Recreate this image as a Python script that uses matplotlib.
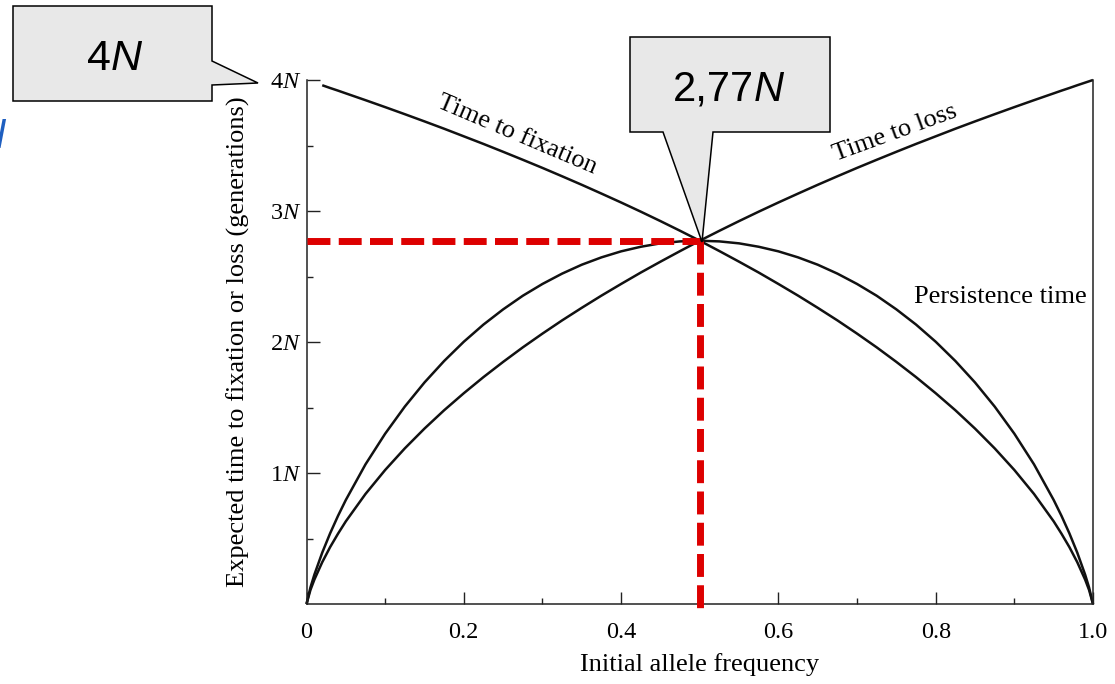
import numpy as np
import matplotlib
matplotlib.use("Agg")
import matplotlib.pyplot as plt
from matplotlib.patches import Polygon

plt.rcParams['font.family'] = ['Liberation Serif', 'DejaVu Serif']
plt.rcParams['mathtext.fontset'] = 'custom'
plt.rcParams['mathtext.rm'] = 'Liberation Serif'
plt.rcParams['mathtext.it'] = 'Liberation Serif:italic'

# initial allele frequency and expected times (units of N)
freq = [0, 0.005, 0.01, 0.02, 0.03, 0.04, 0.05, 0.075, 0.1, 0.125, 0.15, 0.175, 0.2, 0.225, 0.25,
        0.275, 0.3, 0.325, 0.35, 0.375, 0.4, 0.425, 0.45, 0.475, 0.5, 0.525, 0.55, 0.575, 0.6,
        0.625, 0.65, 0.675, 0.7, 0.725, 0.75, 0.775, 0.8, 0.825, 0.85, 0.875, 0.9, 0.925, 0.95,
        0.96, 0.97, 0.98, 0.99, 0.995, 1.0]
t_fix = [np.nan, np.nan, np.nan, 3.960, 3.939, 3.919, 3.898, 3.846, 3.793, 3.739, 3.684, 3.628,
         3.570, 3.512, 3.452, 3.391, 3.329, 3.265, 3.200, 3.133, 3.065, 2.995, 2.923, 2.849, 2.773,
         2.694, 2.613, 2.530, 2.443, 2.354, 2.261, 2.165, 2.064, 1.959, 1.848, 1.732, 1.609, 1.479,
         1.339, 1.188, 1.023, 0.840, 0.631, 0.536, 0.434, 0.319, 0.186, 0.107, 0]
t_loss = [0, 0.107, 0.186, 0.319, 0.434, 0.536, 0.631, 0.840, 1.023, 1.188, 1.339, 1.479, 1.609,
          1.732, 1.848, 1.959, 2.064, 2.165, 2.261, 2.354, 2.443, 2.530, 2.613, 2.694, 2.773, 2.849,
          2.923, 2.995, 3.065, 3.133, 3.200, 3.265, 3.329, 3.391, 3.452, 3.512, 3.570, 3.628, 3.684,
          3.739, 3.793, 3.846, 3.898, 3.919, 3.939, 3.960, 3.980, 3.990, 4.0]
t_pers = [0, 0.126, 0.224, 0.392, 0.539, 0.672, 0.794, 1.066, 1.300, 1.507, 1.691, 1.855, 2.002,
          2.133, 2.249, 2.353, 2.443, 2.522, 2.590, 2.646, 2.692, 2.727, 2.753, 2.768, 2.773, 2.768,
          2.753, 2.727, 2.692, 2.646, 2.590, 2.522, 2.443, 2.353, 2.249, 2.133, 2.002, 1.855, 1.691,
          1.507, 1.300, 1.066, 0.794, 0.672, 0.539, 0.392, 0.224, 0.126, 0]

p_mid = 0.5
t_mid = 2.77

xticks = [0, 0.2, 0.4, 0.6, 0.8, 1.0]
xticklabels = ['0', '0.2', '0.4', '0.6', '0.8', '1.0']
yticks = [1, 2, 3, 4]
yticklabels = ['1$N$', '2$N$', '3$N$', '4$N$']

W, H = 1115, 684
fig = plt.figure(figsize=(W / 100, H / 100), dpi=100)
ax = fig.add_axes([306.5 / W, 80 / H, 786.5 / W, 524 / H])

for y in (t_fix, t_loss, t_pers):
    ax.plot(freq, y, color='#111111', lw=1.8, clip_on=False, solid_capstyle='butt')

red = '#dd0000'
ax.plot([0, p_mid], [t_mid, t_mid], color=red, lw=5, ls=(0, (3.3, 1.2)), clip_on=False, zorder=4)
ax.plot([p_mid, p_mid], [t_mid, -0.07], color=red, lw=5, ls=(0, (3.3, 1.2)), clip_on=False, zorder=4)

ax.set_xlim(0, 1)
ax.set_ylim(0, 4)
ax.spines['top'].set_visible(False)
for s in ('left', 'bottom', 'right'):
    ax.spines[s].set_linewidth(1.1)
    ax.spines[s].set_color('#222222')

ax.set_xticks(xticks)
ax.set_xticklabels(xticklabels)
ax.set_xticks(np.arange(0.1, 1.0, 0.2), minor=True)
ax.set_yticks(yticks)
ax.set_yticklabels(yticklabels)
ax.set_yticks(np.arange(0.5, 4.0, 1.0), minor=True)
ax.tick_params(which='both', direction='in', width=1.0, color='#222222', labelsize=17.5,
               right=False, top=False)
ax.tick_params(which='major', length=9)
ax.tick_params(which='minor', length=4)
ax.tick_params(axis='x', pad=13)
ax.tick_params(axis='y', pad=4)

ax.set_xlabel('Initial allele frequency', fontsize=19, labelpad=7)
ax.set_ylabel('Expected time to fixation or loss (generations)', fontsize=19, labelpad=14)

ax.text(0.268, 3.58, 'Time to fixation', fontsize=19, rotation=-23, ha='center', va='center',
        rotation_mode='anchor')
ax.text(0.748, 3.595, 'Time to loss', fontsize=19, rotation=20, ha='center', va='center',
        rotation_mode='anchor')
ax.text(0.882, 2.34, 'Persistence time', fontsize=19, ha='center', va='center')


def px(x, y):
    return (x / W, 1 - y / H)


callout1 = [(13, 6), (212, 6), (212, 61), (258, 83), (212, 85), (212, 101), (13, 101)]
callout2 = [(630, 37), (830, 37), (830, 132), (713, 132), (702, 242), (663, 132), (630, 132)]
for pts in (callout1, callout2):
    fig.add_artist(Polygon([px(*pt) for pt in pts], closed=True, transform=fig.transFigure,
                           fc='#e8e8e8', ec='black', lw=1.1, zorder=5))

sans = ['Liberation Sans', 'DejaVu Sans']
fig.text(*px(111, 70), '4', family=sans, fontsize=31, ha='right', va='baseline', zorder=6)
fig.text(*px(111, 70), 'N', family=sans, fontsize=31, style='italic', ha='left', va='baseline', zorder=6)
fig.text(*px(754, 101), '2,77', family=sans, fontsize=30, ha='right', va='baseline', zorder=6)
fig.text(*px(754, 101), 'N', family=sans, fontsize=30, style='italic', ha='left', va='baseline', zorder=6)

# clipped fragment of blue text at the left edge
fig.text(*px(-24, 148), 'N', family=sans, fontsize=30, style='italic', color='#1f5fc0',
         ha='left', va='baseline')

fig.savefig('out.png', dpi=100)
